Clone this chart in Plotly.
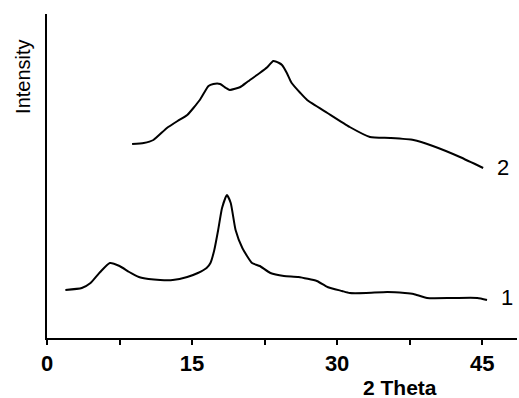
import plotly.graph_objects as go

# XRD patterns: 2-theta (deg) vs intensity (a.u.)
theta_1 = [1.9, 3.6, 4.5, 5.5, 6.5, 7.5, 8.5, 9.5, 10.5, 11.7, 13.0, 14.5, 15.6,
           16.5, 16.9, 17.3, 17.7, 18.1, 18.6, 19.0, 19.5, 20.2, 21.2, 22.0, 23.1,
           24.5, 26.0, 27.9, 29.0, 30.5, 31.3, 33.0, 35.2, 37.0, 37.9, 39.3, 42.0,
           44.5, 45.5]
intensity_1 = [48, 50, 55, 66, 75, 72, 66, 61, 59, 58, 58, 61, 65,
               70, 75, 88, 108, 130, 143, 135, 108, 90, 75, 72, 65,
               62, 61, 57, 51, 47, 45, 45, 46, 45, 44, 40, 40,
               40, 38]

theta_2 = [8.8, 10.0, 11.0, 12.4, 13.5, 14.5, 15.8, 16.7, 17.2, 17.9, 18.5, 18.9,
           20.0, 20.7, 22.0, 22.8, 23.4, 24.0, 24.3, 24.8, 25.3, 26.2, 26.9, 29.0,
           31.3, 33.4, 35.5, 37.9, 39.9, 42.7, 45.1]
intensity_2 = [194, 195, 198, 210, 217, 223, 238, 252, 254, 254, 250, 248,
               251, 256, 265, 271, 277, 275, 273, 265, 255, 245, 238, 225,
               211, 201, 200, 198, 192, 181, 170]

tick_vals = [0, 7.5, 15, 22.5, 30, 37.5, 45]
tick_text = ["0", "", "15", "", "30", "", "45"]

font_family = "Liberation Sans, Arial, sans-serif"

fig = go.Figure()
for xs, ys in [(theta_1, intensity_1), (theta_2, intensity_2)]:
    fig.add_trace(go.Scatter(x=xs, y=ys, mode="lines",
                             line=dict(color="black", width=2,
                                       shape="spline", smoothing=0.5),
                             showlegend=False, hoverinfo="skip"))

# curve labels at the right-hand end of each pattern
fig.add_annotation(x=47.2, y=171, text="2", showarrow=False,
                   font=dict(family=font_family, size=22, color="black"))
fig.add_annotation(x=47.6, y=41, text="1", showarrow=False,
                   font=dict(family=font_family, size=22, color="black"))

# axis titles
fig.add_annotation(xref="paper", yref="paper", x=-0.051, y=0.806,
                   text="Intensity", textangle=-90, showarrow=False,
                   xanchor="center", yanchor="middle",
                   font=dict(family=font_family, size=20, color="black"))
fig.add_annotation(xref="paper", yref="paper", x=0.751, y=-0.152,
                   text="2 Theta", showarrow=False,
                   xanchor="center", yanchor="middle",
                   font=dict(family=font_family, size=21, color="black", weight="bold"))

fig.update_xaxes(range=[0, 48.6], showgrid=False, zeroline=False,
                 showline=True, linecolor="black", linewidth=2,
                 ticks="outside", ticklen=5, tickwidth=2, tickcolor="black",
                 tickvals=tick_vals, ticktext=tick_text,
                 tickfont=dict(family=font_family, size=22, color="black", weight="bold"))
fig.update_yaxes(range=[0, 324], showgrid=False, zeroline=False,
                 showline=True, linecolor="black", linewidth=2,
                 showticklabels=False, ticks="")

fig.update_layout(width=519, height=398,
                  margin=dict(l=47, r=2, t=14, b=60),
                  paper_bgcolor="white", plot_bgcolor="white")

fig.write_html("out.html")
